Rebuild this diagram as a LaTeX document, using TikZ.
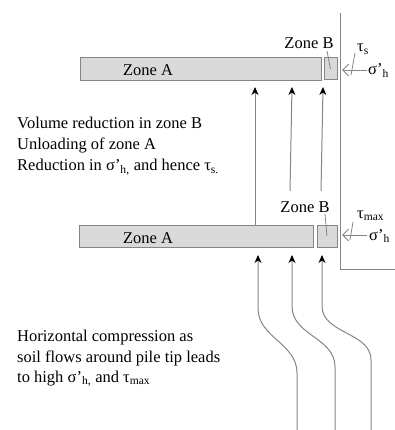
\documentclass[tikz,border=0pt]{standalone}
\usepackage{fontspec}
\setmainfont{Liberation Serif}
\usetikzlibrary{arrows.meta}
\definecolor{barfill}{HTML}{D9D9D9}
\definecolor{edge}{HTML}{858585}
\begin{document}
\begin{tikzpicture}[x=1pt,y=-1pt,
  bar/.style={draw=edge, fill=barfill, line width=1pt, inner sep=0pt},
  lbl/.style={font=\fontsize{16.5}{21}\selectfont, inner sep=0pt, anchor=base west},
  zlbl/.style={font=\fontsize{16.5}{21}\selectfont, inner sep=0pt, anchor=base},
  flow/.style={draw=edge, line width=1pt, -{Stealth[length=8pt,width=7pt,inset=2.5pt,color=black]}},
  push/.style={draw=edge, line width=0.9pt, -{Straight Barb[length=6pt,width=12pt]}},
  lead/.style={draw=edge, line width=0.8pt}]
\path[use as bounding box] (0,0) rectangle (395,430);

% pile outline
\coordinate (pt) at (340,13);
\coordinate (pc) at (340,269);
\coordinate (pr) at (395,269);
\draw[edge, line width=1pt] (pt) -- (pc) -- (pr);

% upper stage
\node[bar, minimum width=241pt, minimum height=23pt] (A1) at (200.5,69.5) {};
\node[bar, minimum width=13pt, minimum height=22pt] (B1) at (330.5,69) {};
\node[zlbl] (A1t) at (148,76) {Zone A};
\node[zlbl] (B1t) at (309,49) {Zone B};
\coordinate (B1l) at (327,51);
\draw[lead] (B1l) -- (B1.center);

% lower stage
\node[bar, minimum width=234pt, minimum height=22pt] (A2) at (196,236) {};
\node[bar, minimum width=20pt, minimum height=22pt] (B2) at (327,236) {};
\node[zlbl] (A2t) at (148,243) {Zone A};
\node[zlbl] (B2t) at (305,212) {Zone B};
\coordinate (B2l) at (325,214);
\draw[lead] (B2l) -- (B2.center);

% upper arrows
\coordinate (u1t) at (255,87);
\coordinate (u2t) at (292,87);
\coordinate (u3t) at (323,87);
\coordinate (u2b) at (290,191);
\coordinate (u3b) at (321,191);
\draw[flow] (A2.north -| u1t) -- (u1t);
\draw[flow] (u2b) -- (u2t);
\draw[flow] (u3b) -- (u3t);

% lower curved arrows
\coordinate (c1b) at (297,430); \coordinate (c1t) at (258,255);
\coordinate (c2b) at (335,430); \coordinate (c2t) at (292,255);
\coordinate (c3b) at (371,430); \coordinate (c3t) at (322,255);
\draw[flow] (c1b) -- (297,373) .. controls (297,343) and (258,338) .. (258,308) -- (c1t);
\draw[flow] (c2b) -- (335,367) .. controls (335,337) and (292,336) .. (292,306) -- (c2t);
\draw[flow] (c3b) -- (371,360) .. controls (371,332) and (322,334) .. (322,306) -- (c3t);

% stresses, upper
\coordinate (s1a) at (367,70); \coordinate (s1b) at (342,70);
\draw[push] (s1a) -- (s1b);
\coordinate (t1a) at (351,75); \coordinate (t1b) at (355,53);
\draw[lead] (t1a) -- (t1b);
\node[lbl] (tau1) at (357,52) {τ\textsubscript{s}};
\node[lbl] (sig1) at (368,75) {σ’\textsubscript{h}};

% stresses, lower
\coordinate (s2a) at (367,235); \coordinate (s2b) at (342,235);
\draw[push] (s2a) -- (s2b);
\coordinate (t2a) at (350,240); \coordinate (t2b) at (353,222);
\draw[lead] (t2a) -- (t2b);
\node[lbl] (tau2) at (357,218) {τ\textsubscript{max}};
\node[lbl] (sig2) at (369,240) {σ’\textsubscript{h}};

% explanatory texts
\node[lbl] (m1) at (17,129) {Volume reduction in zone B};
\node[lbl] (m2) at (17,150) {Unloading of zone A};
\node[lbl] (m3) at (17,171) {Reduction in σ’\textsubscript{h,} and hence τ\textsubscript{s.}};
\node[lbl] (n1) at (17,341) {Horizontal compression as};
\node[lbl] (n2) at (17,362) {soil flows around pile tip leads};
\node[lbl] (n3) at (17,382) {to high σ’\textsubscript{h,} and τ\textsubscript{max}};
\end{tikzpicture}
\end{document}
